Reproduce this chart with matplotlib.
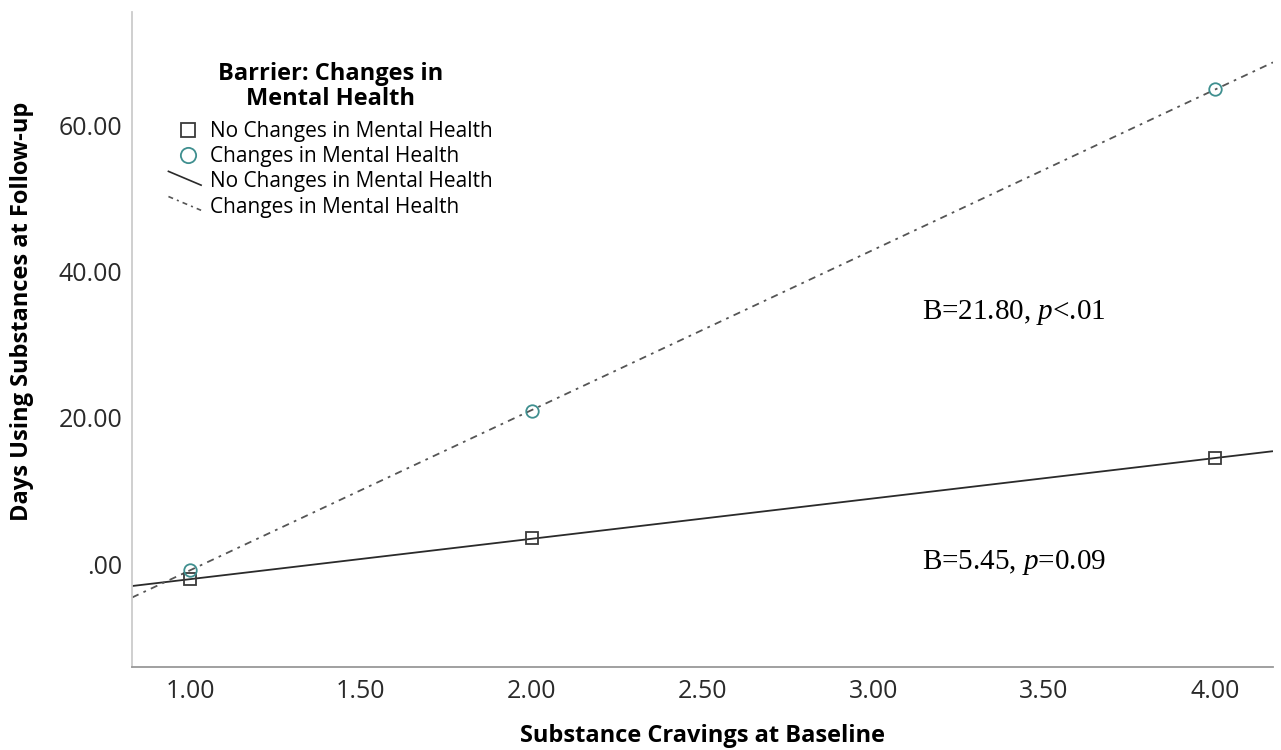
import numpy as np
import matplotlib
matplotlib.use("Agg")
import matplotlib.pyplot as plt
from matplotlib.lines import Line2D
from matplotlib.legend_handler import HandlerLine2D

plt.rcParams['font.family'] = ['Open Sans', 'DejaVu Sans']
plt.rcParams['mathtext.fontset'] = 'custom'
plt.rcParams['mathtext.rm'] = 'Liberation Serif'
plt.rcParams['mathtext.it'] = 'Liberation Serif:italic'

# Data
cravings = [1.0, 2.0, 4.0]
no_change_vals = [-2.1, 3.5, 14.5]
change_vals = [-0.8, 21.0, 65.0]
group_labels = ["No Changes in Mental Health", "Changes in Mental Health"]
legend_title = "Barrier: Changes in\nMental Health"
x_ticks = [1.0, 1.5, 2.0, 2.5, 3.0, 3.5, 4.0]
y_ticks = [0, 20, 40, 60]
annotations = ["B=21.80, $p$<.01", "B=5.45, $p$=0.09"]

teal = "#3f8f8f"
dark = "#3a3a3a"
W, H = 1281, 750

fig = plt.figure(figsize=(W / 100, H / 100), dpi=100)
ax = fig.add_axes([132 / W, (H - 667) / H, (1273 - 132) / W, (667 - 12) / H])

xmin, xmax = 0.830, 4.170
ax.set_xlim(xmin, xmax)
ax.set_ylim(-14.1, 75.6)

xx = np.array([xmin, xmax])
c1 = np.polyfit(cravings, no_change_vals, 1)
c2 = np.polyfit(cravings, change_vals, 1)
dash = (4, 3, 1.5, 3)
ax.plot(xx, np.polyval(c1, xx), color="#2a2a2a", lw=1.3, solid_capstyle='butt')
ax.plot(xx, np.polyval(c2, xx), color="#555555", lw=1.3, dashes=dash)

ax.plot(cravings, no_change_vals, ls='none', marker='s', ms=8, mfc='none',
        mec=dark, mew=1.3)
ax.plot(cravings, change_vals, ls='none', marker='o', ms=9, mfc='none',
        mec=teal, mew=1.3)

ax.set_xticks(x_ticks)
ax.set_xticklabels([f"{v:.2f}" for v in x_ticks])
ax.set_yticks(y_ticks)
ax.set_yticklabels([".00" if v == 0 else f"{v:.2f}" for v in y_ticks])
ax.tick_params(length=0, labelsize=18, colors="#2a2a2a", pad=7)
ax.tick_params(axis='x', pad=9)

for s in ['top', 'right']:
    ax.spines[s].set_visible(False)
ax.spines['left'].set_color('#cccccc')
ax.spines['bottom'].set_color('#999999')
ax.spines['left'].set_linewidth(1.3)
ax.spines['bottom'].set_linewidth(1.3)

ax.set_xlabel("Substance Cravings at Baseline", fontsize=17, fontweight='bold',
              labelpad=14)
ax.set_ylabel("Days Using Substances at Follow-up", fontsize=17,
              fontweight='bold', labelpad=14)
ax.yaxis.set_label_coords(-0.086, 0.543)


class DiagonalHandler(HandlerLine2D):
    def create_artists(self, legend, orig_handle, xdescent, ydescent,
                       width, height, fontsize, trans):
        line = Line2D([-xdescent - 4, width - xdescent],
                      [height - ydescent + 1, -ydescent + height * 0.15])
        self.update_prop(line, orig_handle, legend)
        line.set_transform(trans)
        return [line]


l_solid = Line2D([], [], color="#2a2a2a", lw=1.2)
l_dash = Line2D([], [], color="#555555", lw=1.2, dashes=(3, 2.5, 1.2, 2.5))
handles = [
    Line2D([], [], ls='none', marker='s', ms=10, mfc='none', mec=dark, mew=1.3),
    Line2D([], [], ls='none', marker='o', ms=11, mfc='none', mec=teal, mew=1.3),
    l_solid,
    l_dash,
]
labels = group_labels + group_labels
leg = fig.legend(handles, labels, loc='upper left',
                 bbox_to_anchor=(174 / W, 1 - 121 / H), frameon=False,
                 fontsize=15, handlelength=1.3, handletextpad=0.45,
                 labelspacing=0.2, borderaxespad=0, borderpad=0,
                 handler_map={l_solid: DiagonalHandler(),
                              l_dash: DiagonalHandler()})

fig.text(331 / W, 1 - 86.5 / H, legend_title, ha='center', va='center',
         fontsize=17, fontweight='bold', multialignment='center',
         linespacing=1.05)

ax.text(3.142, 34.5, annotations[0], fontsize=21, family='Liberation Serif',
        va='center', ha='left')
ax.text(3.142, 0.27, annotations[1], fontsize=21, family='Liberation Serif',
        va='center', ha='left')

fig.savefig("out.png", dpi=100)
